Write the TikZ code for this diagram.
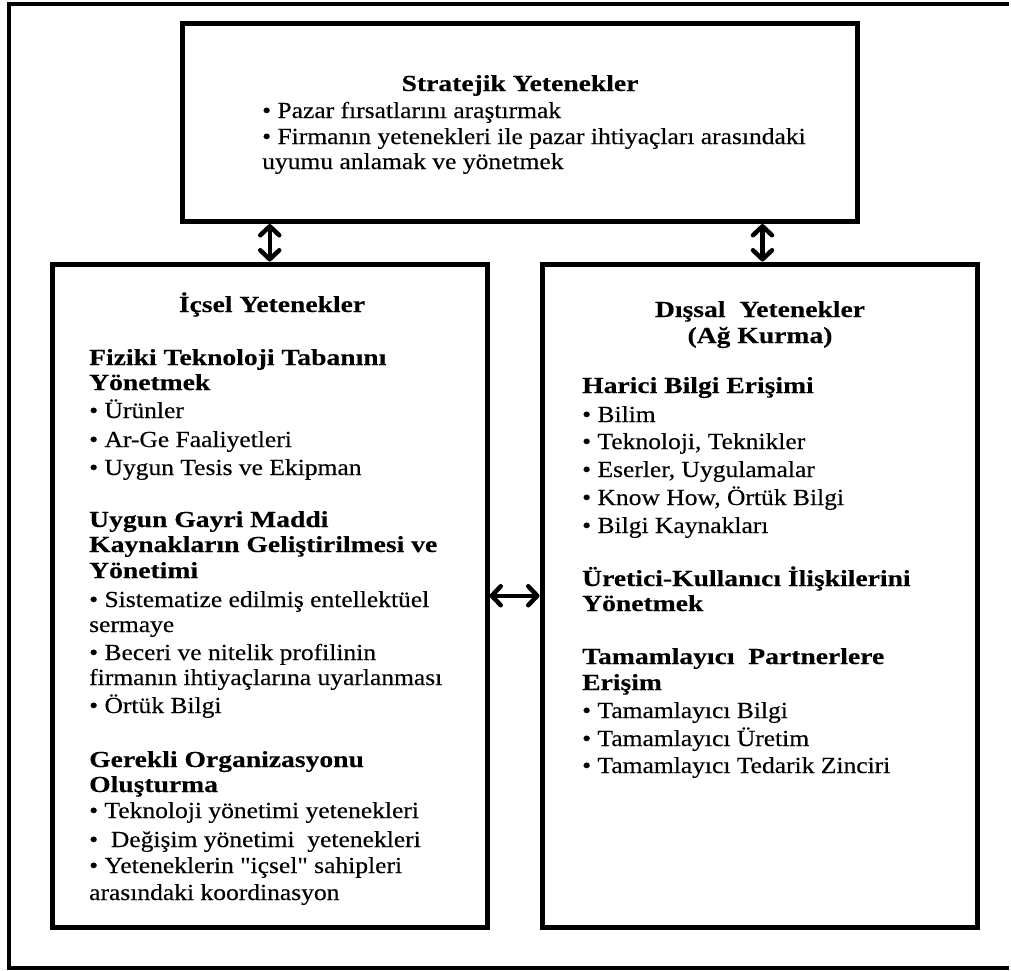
\documentclass[tikz,border=0pt]{standalone}
\usepackage{fontspec}
\setmainfont{Liberation Serif}[Ligatures=TeXOff, FakeStretch=1.11, FakeBold=0.3, BoldFeatures={FakeStretch=1.2, FakeBold=0.2}]
\usetikzlibrary{arrows.meta}
\begin{document}
\begin{tikzpicture}[x=1pt,y=-1pt,
  box/.style={draw, line width=5pt, rectangle, inner sep=0pt},
  txt/.style={anchor=base west, inner sep=0pt, font=\fontsize{23}{27}\selectfont},
  hd/.style={txt, font=\fontsize{23}{27}\selectfont\bfseries},
  ttl/.style={hd, anchor=base},
  arr/.style={line width=4.5pt, {Straight Barb[length=9pt,width=19pt,line cap=round,line join=round]}-{Straight Barb[length=9pt,width=19pt,line cap=round,line join=round]}}
]
\useasboundingbox (0,0) rectangle (1011,970);
% outer frame (right side lies outside the picture)
\draw[line width=4.5pt] (1009,4) -- (9,4) -- (9,968) -- (1009,968);

% boxes
\node[box, minimum width=674.5pt, minimum height=198.5pt] (top) at (519.75,122.25) {};
\node[box, minimum width=434.5pt, minimum height=663.5pt] (left) at (269.75,595.75) {};
\node[box, minimum width=435pt, minimum height=663.5pt] (right) at (759.5,595.75) {};

% connectors
\draw[arr] (left.north |- top.south) -- (left.north);
\draw[arr] ([xshift=3pt]right.north |- top.south) -- ([xshift=3pt]right.north);
\draw[arr] (left.east) -- (right.west);

% top box text
\node[ttl] (t0) at (520,91) {Stratejik Yetenekler};
\node[txt] (t1) at (262,118) {• Pazar fırsatlarını araştırmak};
\node[txt] (t2) at (262,144) {• Firmanın yetenekleri ile pazar ihtiyaçları arasındaki};
\node[txt] (t3) at (262,169) {uyumu anlamak ve yönetmek};

% left box text
\node[ttl] (l0) at (272,312) {İçsel Yetenekler};
\node[hd] (l1) at (89,365) {Fiziki Teknoloji Tabanını};
\node[hd] (l2) at (89,390) {Yönetmek};
\node[txt] (l3) at (89,418) {• Ürünler};
\node[txt] (l4) at (89,447) {• Ar-Ge Faaliyetleri};
\node[txt] (l5) at (89,475) {• Uygun Tesis ve Ekipman};
\node[hd] (l6) at (89,527) {Uygun Gayri Maddi};
\node[hd] (l7) at (89,552) {Kaynakların Geliştirilmesi ve};
\node[hd] (l8) at (89,578) {Yönetimi};
\node[txt] (l9) at (89,607) {• Sistematize edilmiş entellektüel};
\node[txt] (l10) at (89,632) {sermaye};
\node[txt] (l11) at (89,660) {• Beceri ve nitelik profilinin};
\node[txt] (l12) at (89,685) {firmanın ihtiyaçlarına uyarlanması};
\node[txt] (l13) at (89,713) {• Örtük Bilgi};
\node[hd] (l14) at (89,767) {Gerekli Organizasyonu};
\node[hd] (l15) at (89,792) {Oluşturma};
\node[txt] (l16) at (89,818) {• Teknoloji yönetimi yetenekleri};
\node[txt] (l17) at (89,847) {•\ \ Değişim yönetimi\ \ yetenekleri};
\node[txt] (l18) at (89,873) {• Yeteneklerin "içsel" sahipleri};
\node[txt] (l19) at (89,900) {arasındaki koordinasyon};

% right box text
\node[ttl] (r0) at (760,317) {Dışsal\ \ Yetenekler};
\node[ttl] (r1) at (760,343) {(Ağ Kurma)};
\node[hd] (r2) at (582,393) {Harici Bilgi Erişimi};
\node[txt] (r3) at (582,422) {• Bilim};
\node[txt] (r4) at (582,449) {• Teknoloji, Teknikler};
\node[txt] (r5) at (582,477) {• Eserler, Uygulamalar};
\node[txt] (r6) at (582,505) {• Know How, Örtük Bilgi};
\node[txt] (r7) at (582,533) {• Bilgi Kaynakları};
\node[hd] (r8) at (582,586) {Üretici-Kullanıcı İlişkilerini};
\node[hd] (r9) at (582,611) {Yönetmek};
\node[hd] (r10) at (582,664) {Tamamlayıcı\ \ Partnerlere};
\node[hd] (r11) at (582,690) {Erişim};
\node[txt] (r12) at (582,718) {• Tamamlayıcı Bilgi};
\node[txt] (r13) at (582,746) {• Tamamlayıcı Üretim};
\node[txt] (r14) at (582,773) {• Tamamlayıcı Tedarik Zinciri};
\end{tikzpicture}
\end{document}
